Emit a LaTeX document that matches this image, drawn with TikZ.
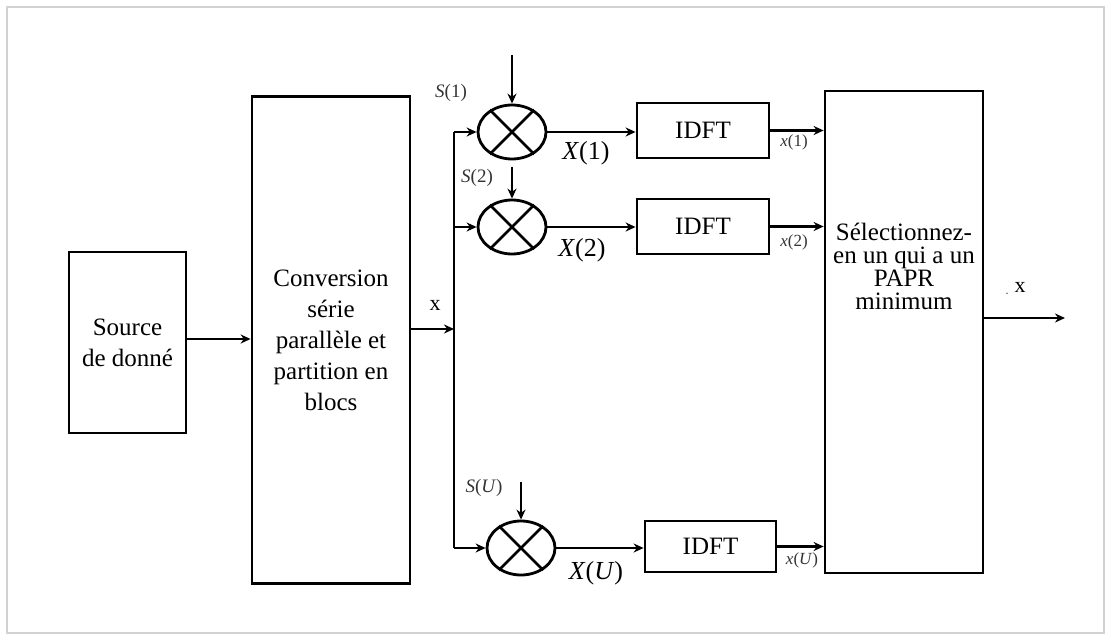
\documentclass[tikz,border=0pt]{standalone}
\usepackage{fontspec}
\setmainfont{Liberation Serif}
\usetikzlibrary{shapes.geometric,arrows.meta,calc}
\tikzset{
  blk/.style={draw, line width=2.8pt, inner sep=0pt, align=center, font=\fontsize{25}{31}\selectfont},
  mult/.style={draw, ellipse, line width=2.8pt, minimum width=68pt, minimum height=54pt, inner sep=0pt},
  wire/.style={line width=2.8pt},
  arr/.style={line width=2.8pt, -{Stealth[length=10pt,width=9pt]}},
  biglab/.style={font=\fontsize{26}{26}\selectfont, inner sep=0pt},
  slab/.style={font=\fontsize{19}{19}\selectfont, inner sep=0pt, text=black!80},
  olab/.style={font=\fontsize{17}{17}\selectfont, inner sep=0pt, text=black!80},
}
\begin{document}
\begin{tikzpicture}[x=1pt,y=-1pt]
\useasboundingbox (0,0) rectangle (1110,639);
\draw[gray!35, line width=1.5pt] (7,7) rectangle (1104,633);

% main blocks
\node[blk, minimum width=117pt, minimum height=181pt] (src) at (127.5,342.5) {Source\\de donné};
\node[blk, minimum width=158pt, minimum height=487pt] (conv) at (331,340) {Conversion\\série\\parallèle et\\partition en\\blocs};
\node[blk, minimum width=158pt, minimum height=482pt] (sel) at (904,332) {};
\node[align=center, inner sep=0pt, font=\fontsize{25}{23}\selectfont] (seltxt) at (904,266) {Sélectionnez-\\en un qui a un\\PAPR\\minimum};

% multipliers
\node[mult] (m1) at (512,132) {};
\node[mult] (m2) at (512,227) {};
\node[mult] (mU) at (521,548) {};
\foreach \m in {m1,m2,mU}{
  \draw[wire] (\m.45) -- (\m.225);
  \draw[wire] (\m.135) -- (\m.-45);
}

% IDFT blocks
\node[blk, minimum width=132pt, minimum height=55pt] (i1) at (703,130.5) {IDFT};
\node[blk, minimum width=132pt, minimum height=55pt] (i2) at (703,226.5) {IDFT};
\node[blk, minimum width=131pt, minimum height=51pt] (iU) at (710.5,546.5) {IDFT};

% bus
\coordinate (bt) at (454,132);
\coordinate (bm) at (454,329);
\coordinate (bb) at (454,548);
\draw[wire] (bt) -- (bb);
\draw[arr] (src.east |- 0,339) -- (conv.west |- 0,339);
\draw[arr] (conv.east |- bm) -- (bm);
\node[font=\fontsize{22}{22}\selectfont, inner sep=0pt] (xlab) at (435,305) {x};

\draw[arr] (bt) -- (m1.west);
\draw[arr] (bt |- m2.west) -- (m2.west);
\draw[arr] (bb) -- (mU.west);

% input arrows
\coordinate (s1) at (512,55);
\coordinate (s2) at (512,167);
\coordinate (sU) at (521,482);
\draw[arr] (s1) -- (m1.north);
\draw[arr] (s2) -- (m2.north);
\draw[arr] (sU) -- (mU.north);
\node[slab] (ls1) at (451,93) {\textit{S}(1)};
\node[slab] (ls2) at (477,178) {\textit{S}(2)};
\node[slab] (lsU) at (484,488) {\textit{S}(\textit{U})};

% to IDFT
\draw[arr] (m1.east) -- (m1.east -| i1.west);
\draw[arr] (m2.east) -- (m2.east -| i2.west);
\draw[arr] (mU.east) -- (mU.east -| iU.west);
\node[biglab] (lX1) at (586,153) {\textit{X}(1)};
\node[biglab] (lX2) at (582,250) {\textit{X}(2)};
\node[biglab] (lXU) at (596,573) {\textit{X}(\textit{U})};

% to selection
\draw[arr] (i1.east) -- (i1.east -| sel.west);
\draw[arr] (i2.east) -- (i2.east -| sel.west);
\draw[arr] (iU.east) -- (iU.east -| sel.west);
\node[olab] (lx1) at (794,142) {\textit{x}(1)};
\node[olab] (lx2) at (794,242) {\textit{x}(2)};
\node[olab] (lxU) at (802,560) {\textit{x}(\textit{U})};

% output
\coordinate (out) at (1065,318);
\draw[arr] (out -| sel.east) -- (out);
\node[font=\fontsize{22}{22}\selectfont, inner sep=0pt] (xout) at (1020,287) {x};
\node[font=\fontsize{14}{14}\selectfont, inner sep=0pt, text=black!60] (dot) at (1007,294) {.};
\end{tikzpicture}
\end{document}
